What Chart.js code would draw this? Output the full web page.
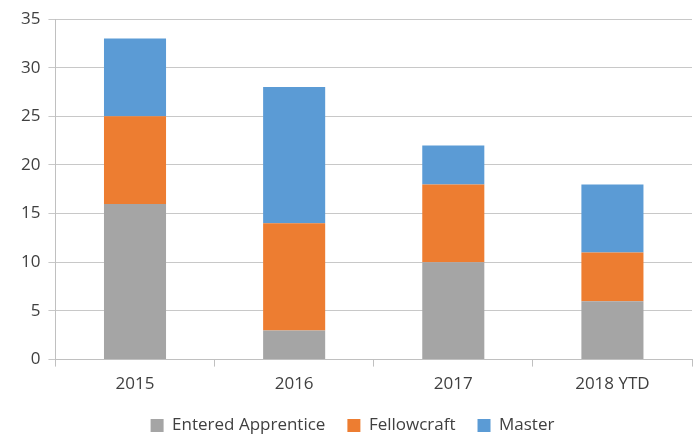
<!DOCTYPE html>
<html>
<head>
<meta charset="utf-8">
<script src="https://cdn.jsdelivr.net/npm/chart.js@4"></script>
<style>
  html, body { margin: 0; padding: 0; background: #fff; }
  #wrap { width: 696px; height: 434px; }
</style>
</head>
<body>
<div id="wrap"><canvas id="chart"></canvas></div>
<script>
// data
var years = ["2015", "2016", "2017", "2018 YTD"];
var apprentice = [16, 3, 10, 6];
var fellowcraft = [9, 11, 8, 5];
var master = [8, 14, 4, 7];

var tickFont = { family: 'Open Sans', size: 17 };

var ctx = document.getElementById('chart');
var chart = new Chart(ctx, {
    type: 'bar',
    data: {
        labels: years,
        datasets: [
            { label: 'Entered Apprentice', data: apprentice, backgroundColor: '#A5A5A5' },
            { label: 'Fellowcraft', data: fellowcraft, backgroundColor: '#ED7D31' },
            { label: 'Master', data: master, backgroundColor: '#5B9BD5' }
        ]
    },
    options: {
        responsive: true,
        maintainAspectRatio: false,
        animation: false,
        layout: { padding: { top: 19, right: 4, left: 13, bottom: -10 } },
        datasets: { bar: { barPercentage: 0.39, categoryPercentage: 1 } },
        plugins: {
            legend: {
                position: 'bottom',
                labels: {
                    boxWidth: 13, boxHeight: 13, padding: 22,
                    color: '#404040',
                    font: tickFont
                }
            },
            tooltip: { enabled: false }
        },
        scales: {
            x: {
                stacked: true,
                grid: { display: true, drawOnChartArea: false, drawTicks: true, tickLength: 7, color: '#c0c0c0' },
                border: { color: '#c0c0c0' },
                ticks: { color: '#404040', padding: 7, font: tickFont },
                afterFit: function (scale) { scale.height -= 6; } // let the plot reach lower, legend stays put
            },
            y: {
                stacked: true,
                min: 0, max: 35,
                grid: { display: true, drawOnChartArea: true, drawTicks: true, tickLength: 7, color: '#c8c8c8' },
                border: { color: '#c0c0c0' },
                ticks: { stepSize: 5, color: '#404040', padding: 8, font: tickFont }
            }
        }
    }
});
</script>
</body>
</html>
